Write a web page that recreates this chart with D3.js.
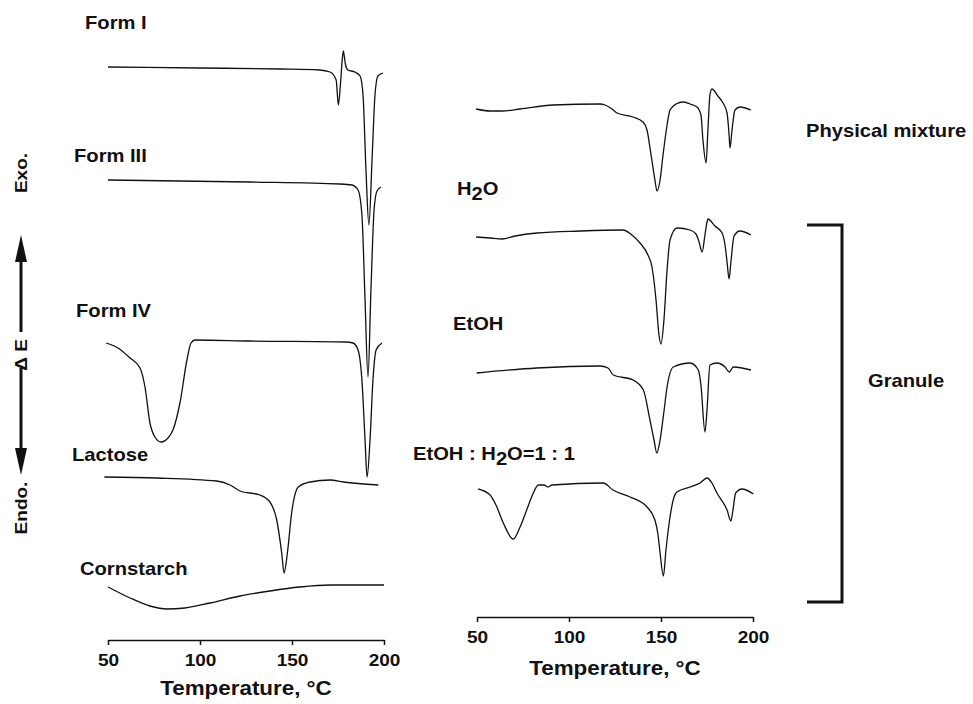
<!DOCTYPE html>
<html>
<head>
<meta charset="utf-8">
<script src="https://cdn.jsdelivr.net/npm/d3@7"></script>
<style>
  body { margin: 0; background: #fff; }
  svg { display: block; }
  .curve { fill: none; stroke: #111; stroke-width: 1.3; }
  .lbl { font-family: "Liberation Sans", Arial, sans-serif; font-weight: bold; fill: #111; }
  .axis path, .axis line { stroke: #111; stroke-width: 1.5; }
</style>
</head>
<body>
<svg id="chart" width="973" height="704"></svg>
<script>
// DSC traces, [temperature °C, heat flow (arb. units, exo up)]
const formI = [[50, 0.1], [100, 0], [143.5, -0.1], [165, -0.2], [170.7, -0.4], [174, -1.2], [175.2, -3.7],
  [176.3, -1.7], [177.3, 0.8], [177.9, 1.7], [179, 0.4], [180.4, -0.2], [184.2, -0.4], [187, -0.8],
  [188.6, -2.7], [190.2, -10.2], [191.8, -15.7], [193.5, -9.2], [195.1, -2.7], [196.7, -0.8], [199.5, -0.5]];
const formIII = [[50, 0.2], [127.2, 0], [176.1, -0.2], [182.6, -0.3], [185.9, -0.8], [188, -3.3],
  [189.7, -11.8], [191.3, -19.5], [192.9, -10.8], [194.6, -2.8], [196.2, -0.9], [198.4, -0.5]];
const formIV = [[49, -0.2], [55.4, -0.7], [62, -1.7], [67.4, -2.7], [70.1, -4.6], [72.8, -8.2], [75.5, -9.6],
  [78.8, -10.1], [82.6, -9.7], [85.3, -8.9], [89.1, -6.2], [92.9, -1.9], [95.1, -0.2], [97.3, 0.1],
  [127.2, 0], [178.8, -0.1], [183.2, -0.2], [185.9, -0.9], [188, -3.9], [189.7, -9.9], [190.8, -13.6],
  [192.4, -9.9], [194, -3.9], [195.7, -0.9], [198.9, -0.2]];
const lactose = [[48, 0.1], [76.5, 0], [109, -0.3], [116.3, -0.7], [121.7, -1.3], [132.6, -1.7], [138, -2.4],
  [141.7, -4.2], [144.4, -7.5], [145.7, -9.5], [147.5, -7.5], [149.8, -3.5], [153.4, -0.9], [159.8, -0.4],
  [170.7, -0.2], [177.9, -0.4], [196.9, -0.7]];
const cornstarch = [[50, -0.1], [62, -1.2], [72.8, -2], [82, -2.3], [91.8, -2.2], [105.4, -1.7], [121.7, -1],
  [138, -0.5], [154.3, -0.1], [170.7, 0.1], [200, 0.1]];

const physicalMixture = [[49.5, -0.4], [57.1, -0.6], [63.6, -0.6], [73.4, -0.4], [91.3, 0], [116.8, 0.1],
  [119.6, 0], [123.4, -0.4], [126.1, -0.8], [134.8, -1.2], [140.2, -1.7], [142.4, -2.5], [144.6, -5],
  [146.7, -7.5], [147.8, -8.6], [149.5, -7.5], [151.1, -5], [153.3, -2], [154.9, -0.5], [158.2, 0.1],
  [162, 0.3], [165.8, 0.1], [169.6, -0.2], [171.7, -1], [172.8, -3.5], [174.5, -5.8], [175.5, -2.5],
  [176.6, 1], [177.7, 1.6], [180.9, 0.9], [183.7, 0.2], [185.9, -0.8], [187, -3], [187.5, -4.3],
  [188.6, -2.5], [190.2, -0.5], [192.9, -0.2], [198.9, -0.5]];
const granuleH2O = [[49.5, -0.5], [57.1, -0.6], [63.6, -0.7], [70.7, -0.4], [82.6, -0.1], [106, 0.1],
  [129.3, 0.2], [134.2, -0.3], [138.6, -1.1], [142.9, -2.3], [145.1, -3.5], [147.3, -6.8], [148.9, -10.3],
  [150, -11.2], [151.6, -8.8], [153.3, -3.8], [154.9, -0.8], [158.7, 0.4], [165.8, 0.2], [169, -0.2],
  [170.7, -1], [172.3, -2], [173.9, -0.3], [175, 1], [175.5, 1.3], [179.3, 0.6], [183.2, -0.1],
  [184.8, -1.3], [185.9, -3], [187, -4.7], [188, -3], [189.7, -0.4], [192.9, 0.1], [198.9, -0.3]];
const granuleEtOH = [[49.8, -0.6], [82.4, -0.1], [116.8, 0.1], [121.2, -0.1], [124.1, -0.8], [134.9, -1.3],
  [140.4, -2.3], [144, -5.3], [146.2, -7.3], [147.7, -8.6], [149.5, -7.3], [151.7, -4.3], [153.3, -2],
  [156.7, 0], [165.8, 0.4], [170.3, -0.3], [171.7, -1.8], [173.9, -6.5], [175, -4.3], [176.6, 0.2],
  [180.4, 0.4], [184.8, 0], [187.1, -0.5], [189.3, 0], [198.9, -0.3]];
const granuleMix = [[50.7, -0.4], [57.1, -1], [60.3, -2], [64.3, -3.8], [69.7, -5.4], [73.4, -4.2], [77, -2.5],
  [80.4, -0.9], [83.3, 0], [86.4, 0], [88.6, -0.2], [90.8, 0], [118.6, 0.2], [123.9, -0.5], [133.2, -1.2],
  [142.4, -2.2], [146.7, -3.5], [148.4, -5], [149.5, -6.8], [151.3, -9.1], [152.7, -6.5], [154.9, -3.2],
  [157.1, -1.2], [158.7, -0.7], [165.8, -0.2], [171.2, 0.2], [175, 0.7], [177.7, 0.2], [180.4, -0.8],
  [185.9, -2.5], [188, -3.6], [189.1, -2.5], [190.6, -0.8], [194, -0.4], [200.2, -0.9]];

const tempTicks = [50, 100, 150, 200];
const leftSeries = [formI, formIII, formIV, lactose, cornstarch];
const leftOffsets = [57.2, 45.8, 29.9, 16.2, 5.4];
const rightSeries = [physicalMixture, granuleH2O, granuleEtOH, granuleMix];
const rightOffsets = [53.5, 40.8, 27.3, 15.5];

const svg = d3.select('#chart');
const SX = 1.12; // glyphs in the scan are a little wide

const xLeft  = d3.scaleLinear().domain([50, 200]).range([108, 384]);
const xRight = d3.scaleLinear().domain([50, 200]).range([477, 753]);
const y      = d3.scaleLinear().domain([0, 60]).range([640, 40]);

function drawCurves(series, offsets, x) {
  series.forEach((pts, i) => {
    const line = d3.line()
      .x(d => x(d[0]))
      .y(d => y(offsets[i] + d[1]))
      .curve(d3.curveMonotoneX);
    svg.append('path').attr('class', 'curve').attr('d', line(pts));
  });
}
drawCurves(leftSeries, leftOffsets, xLeft);
drawCurves(rightSeries, rightOffsets, xRight);

function drawAxis(x, yPos, titleY) {
  const g = svg.append('g')
    .attr('class', 'axis')
    .attr('transform', `translate(0,${yPos})`)
    .call(d3.axisBottom(x).tickValues(tempTicks).tickSizeInner(5).tickSizeOuter(0).tickPadding(9));
  g.selectAll('text')
    .attr('class', 'lbl')
    .style('font-size', '17px')
    .attr('transform', `scale(${SX},1)`);
  const [a, b] = x.range();
  label((a + b) / 2, titleY, 'Temperature, °C', 20, 'middle');
}

function label(xp, yp, txt, size, anchor) {
  return svg.append('text')
    .attr('class', 'lbl')
    .attr('transform', `translate(${xp},${yp}) scale(${SX},1)`)
    .attr('text-anchor', anchor || 'start')
    .style('font-size', size + 'px')
    .text(txt);
}

drawAxis(xLeft, 640, 695);
drawAxis(xRight, 617, 675);

// sample labels
label(85, 29, 'Form I', 18);
label(74, 162, 'Form III', 18);
label(76, 317, 'Form IV', 18);
label(72, 461, 'Lactose', 18);
label(80, 575, 'Cornstarch', 18);
label(806, 137, 'Physical mixture', 18);
label(453, 330, 'EtOH', 18);
label(868, 387, 'Granule', 18);

function subLabel(xp, yp, parts) {
  const t = label(xp, yp, '', 18);
  parts.forEach(p => {
    t.append('tspan').attr('dy', p[1]).text(p[0]);
  });
}
subLabel(457, 195, [['H', 0], ['2', 5], ['O', -5]]);
subLabel(413, 460, [['EtOH : H', 0], ['2', 5], ['O=1 : 1', -5]]);

// y annotation: Exo. / ΔE / Endo. with arrows
function vText(yc, txt) {
  svg.append('text')
    .attr('class', 'lbl')
    .attr('transform', `translate(27,${yc}) rotate(-90) scale(${SX},1)`)
    .attr('text-anchor', 'middle')
    .style('font-size', '17px')
    .text(txt);
}
vText(173, 'Exo.');
vText(355, 'Δ E');
vText(508, 'Endo.');

svg.append('line').attr('x1', 21).attr('x2', 21).attr('y1', 258).attr('y2', 332)
  .attr('stroke', '#111').attr('stroke-width', 3);
svg.append('path').attr('d', 'M21,235 L15,262 L27,262 Z').attr('fill', '#111');
svg.append('line').attr('x1', 21).attr('x2', 21).attr('y1', 368).attr('y2', 450)
  .attr('stroke', '#111').attr('stroke-width', 3);
svg.append('path').attr('d', 'M21,475 L15,448 L27,448 Z').attr('fill', '#111');

// bracket for granules
svg.append('path')
  .attr('d', 'M807,225 H842 V602 H807')
  .attr('fill', 'none').attr('stroke', '#111').attr('stroke-width', 3);
</script>
</body>
</html>
